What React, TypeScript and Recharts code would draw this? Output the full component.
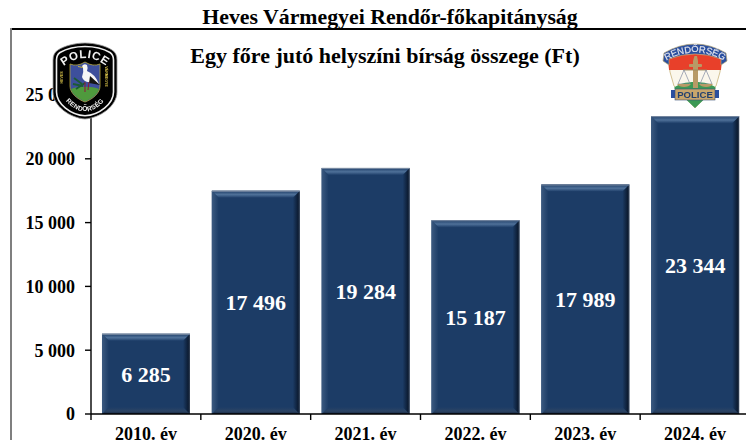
import * as React from 'react'
import { Bar, BarChart, LabelList, XAxis, YAxis } from 'recharts'

const categories = ['2010. év', '2020. év', '2021. év', '2022. év', '2023. év', '2024. év']
const fines = [6285, 17496, 19284, 15187, 17989, 23344]
const yTicks = [0, 5000, 10000, 15000, 20000, 25000]

const data = categories.map((year, i) => ({ year, fine: fines[i] }))

const FONT = '"Liberation Serif", "Times New Roman", serif'
const SANS = '"Liberation Sans", sans-serif'

function formatFt(value: number) {
  return String(value).replace(/\B(?=(\d{3})+$)/g, ' ')
}

function BevelBar({ x, y, width, height }: any) {
  const b = 7
  const r = x + width
  const bottom = y + height
  return (
    <g>
      <defs>
        <linearGradient id="bevel-top" x1="0" y1="0" x2="0" y2="1">
          <stop offset="0" stopColor="#1d3c66" />
          <stop offset="0.55" stopColor="#4f7199" />
          <stop offset="1" stopColor="#1f3f6a" />
        </linearGradient>
        <linearGradient id="bevel-right" x1="0" y1="0" x2="1" y2="0">
          <stop offset="0" stopColor="#1c3c66" />
          <stop offset="0.75" stopColor="#0c1c33" />
          <stop offset="1" stopColor="#3a4658" />
        </linearGradient>
        <linearGradient id="bevel-left" x1="0" y1="0" x2="1" y2="0">
          <stop offset="0" stopColor="#3c5a80" />
          <stop offset="1" stopColor="#1c3c66" />
        </linearGradient>
        <linearGradient id="bevel-bottom" x1="0" y1="0" x2="0" y2="1">
          <stop offset="0" stopColor="#1c3c66" />
          <stop offset="0.6" stopColor="#2c4464" />
          <stop offset="1" stopColor="#16263e" />
        </linearGradient>
      </defs>
      <rect x={x} y={y} width={width} height={height} fill="#1c3c66" />
      <polygon points={`${x},${bottom} ${x + b},${bottom - b} ${r - b},${bottom - b} ${r},${bottom}`} fill="url(#bevel-bottom)" />
      <polygon points={`${x},${y} ${x + b},${y + b} ${x + b},${bottom - b} ${x},${bottom}`} fill="url(#bevel-left)" />
      <polygon points={`${r},${y} ${r},${bottom} ${r - b},${bottom - b} ${r - b},${y + b}`} fill="url(#bevel-right)" />
      <polygon points={`${x},${y} ${r},${y} ${r - b},${y + b} ${x + b},${y + b}`} fill="url(#bevel-top)" />
      <line x1={x} x2={r} y1={y + 0.5} y2={y + 0.5} stroke="#7f8fa6" strokeWidth={1} />
    </g>
  )
}

function YearTick({ x, y, payload, index, width, visibleTicksCount }: any) {
  const step = width / visibleTicksCount
  return (
    <g>
      <line x1={x - step / 2} x2={x - step / 2} y1={y - 8} y2={y - 2} stroke="#000" strokeWidth={1.4} />
      {index === visibleTicksCount - 1 && (
        <line x1={x + step / 2} x2={x + step / 2} y1={y - 8} y2={y - 2} stroke="#000" strokeWidth={1.4} />
      )}
      <text x={x} y={y + 18} textAnchor="middle" fontFamily={FONT} fontWeight="bold" fontSize={18} fill="#000">
        {payload.value}
      </text>
    </g>
  )
}

function PoliceBadge() {
  return (
    <svg width={66} height={78} viewBox="0 0 66 78" style={{ position: 'absolute', left: 52, top: 42 }}>
      <defs>
        <path id="badge-top" d="M8 27 Q33 5 58 27" />
        <path id="badge-bottom" d="M5 47 Q33 92 61 47" />
        <path id="badge-left" d="M11 47 L11 24" />
        <path id="badge-right" d="M53 22 L53 47" />
        <filter id="soft"><feGaussianBlur stdDeviation="0.35" /></filter>
      </defs>
      <g filter="url(#soft)">
        <path d="M33 1 C43 1 54 4 60 8 Q65 11 65 18 L65 50 C65 64 48 76 33 77 C18 76 1 64 1 50 L1 18 Q1 11 6 8 C12 4 23 1 33 1 Z" fill="#000" stroke="#999" strokeWidth={0.8} />
        <path d="M33 4.5 C43 4.5 52 7 58 10.5 Q61.5 13 61.5 18 L61.5 50 C61.5 62 47 73 33 73.8 C19 73 4.5 62 4.5 50 L4.5 18 Q4.5 13 8 10.5 C14 7 23 4.5 33 4.5 Z" fill="none" stroke="#efefef" strokeWidth={1.6} />
        <path d="M18 22 Q25 25 33 20 Q41 25 48 22 L48 44 C48 51 41 57 33 60 C25 57 18 51 18 44 Z" fill="#3d4f9c" stroke="#b8a83a" strokeWidth={0.8} />
        <path d="M19 47 C25 44 41 44 47 47 C45 53 39 57 33 59.5 C27 57 21 53 19 47 Z" fill="#4f9a3c" />
        <path d="M21 42 L31 44 M22 36 L30 42 M24 47 L33 41" stroke="#1d5a34" strokeWidth={1.8} />
        <path d="M30 24 Q32 21 35 23 Q36 25 35 29 Q43 32 47 42 L39 40 Q32 41 30 35 Q32 30 31 26 Z" fill="#f6f6f6" />
        <path d="M38 34 L48 43 L37 41 Z" fill="#151515" />
        <path d="M26 24.5 L31 25.5" stroke="#c9b23a" strokeWidth={1} />
        <path d="M33 40 L33 50 M37 40 L36 48" stroke="#8a1f3c" strokeWidth={1.1} />
        <text fontFamily={SANS} fontWeight="bold" fontSize={11.5} fill="#f2f2f2" letterSpacing={0.6}>
          <textPath href="#badge-top" startOffset="50%" textAnchor="middle">POLICE</textPath>
        </text>
        <text fontFamily={SANS} fontWeight="bold" fontSize={6.6} fill="#f2f2f2" letterSpacing={0.3}>
          <textPath href="#badge-bottom" startOffset="50%" textAnchor="middle">RENDŐRSÉG</textPath>
        </text>
        <text fontFamily={SANS} fontWeight="bold" fontSize={3.6} fill="#d8c24a">
          <textPath href="#badge-left" startOffset="50%" textAnchor="middle">HEVES</textPath>
        </text>
        <text fontFamily={SANS} fontWeight="bold" fontSize={3.6} fill="#d8c24a">
          <textPath href="#badge-right" startOffset="50%" textAnchor="middle">VÁRMEGYE</textPath>
        </text>
      </g>
    </svg>
  )
}

function RendorsegBadge() {
  return (
    <svg width={68} height={68} viewBox="0 0 68 68" style={{ position: 'absolute', left: 661, top: 42 }}>
      <defs>
        <path id="ribbon-top" d="M6 18 Q34 3 62 18" />
        <filter id="soft-right"><feGaussianBlur stdDeviation="0.4" /></filter>
      </defs>
      <g filter="url(#soft-right)">
        <path d="M7 14 L61 14 L59 30 L55 44 L34 66 L13 44 L9 30 Z" fill="#fbf7ec" stroke="#c9b27a" strokeWidth={0.8} />
        <path d="M7 16 Q34 8 61 16 L60 28 L8 28 Z" fill="#e8402c" />
        <path d="M13 46 C20 38 48 38 55 46 L34 66 Z" fill="#3d9a55" />
        <path d="M2 19 L3 11 Q34 -7 65 11 L66 19 L60 23 L60 17 Q34 7 8 17 L8 23 Z" fill="#2b4f9f" stroke="#b9a877" strokeWidth={0.7} />
        <text fontFamily={SANS} fontSize={9.4} fill="#e4e6ee" stroke="#e4e6ee" strokeWidth={0.15}>
          <textPath href="#ribbon-top" startOffset="50%" textAnchor="middle">RENDŐRSÉG</textPath>
        </text>
        <path d="M33.5 14 L36 14 L37 19 L37 46 L32 46 L32 19 Z" fill="#b89a66" />
        <rect x={28} y={22} width={13} height={3} rx={1} fill="#b89a66" />
        <path d="M22 28 L46 28" stroke="#9a8a60" strokeWidth={0.9} />
        <path d="M23 28 L17 42 L29 42 Z M45 28 L39 42 L51 42 Z" fill="none" stroke="#7f8aa0" strokeWidth={0.7} />
        <path d="M16 42 L30 42 Q28 45 23 45 Q18 45 16 42 Z M38 42 L52 42 Q50 45 45 45 Q40 45 38 42 Z" fill="#b89a66" />
        <rect x={10} y={48} width={6} height={8} fill="#2b4f9f" />
        <rect x={52} y={48} width={6} height={8} fill="#2b4f9f" />
        <rect x={14} y={47} width={40} height={11} fill="#c8a56c" stroke="#3a4f7a" strokeWidth={0.6} />
        <text x={34} y={56.2} textAnchor="middle" fontFamily={SANS} fontWeight="bold" fontSize={9.6} fill="#24406e">
          POLICE
        </text>
      </g>
    </svg>
  )
}

export default function App() {
  return (
    <div style={{ position: 'relative', width: 754, height: 448, margin: -8, background: '#fff', overflow: 'hidden', fontFamily: FONT }}>
      <div style={{ position: 'absolute', left: 0, width: 780, top: 5, textAlign: 'center', fontWeight: 'bold', fontSize: 21.8, lineHeight: '24px', color: '#000' }}>
        Heves Vármegyei Rendőr-főkapitányság
      </div>
      <div style={{ position: 'absolute', left: 10, right: 0, top: 28, height: 1.5, background: '#000' }} />
      <div style={{ position: 'absolute', left: 10, top: 28, bottom: 0, width: 1.5, background: '#7f7f7f' }} />
      <div style={{ position: 'absolute', left: 0, width: 770, top: 44, textAlign: 'center', fontWeight: 'bold', fontSize: 22, lineHeight: '24px', color: '#000' }}>
        Egy főre jutó helyszíni bírság összege (Ft)
      </div>
      <div style={{ position: 'absolute', left: 0, top: 0 }}>
        <BarChart
          width={754}
          height={448}
          data={data}
          margin={{ top: 95, right: 4, bottom: 0, left: 0 }}
          barCategoryGap="10%"
        >
          <XAxis
            dataKey="year"
            height={34}
            interval={0}
            axisLine={{ stroke: '#000', strokeWidth: 1.4 }}
            tickLine={false}
            tick={<YearTick />}
          />
          <YAxis
            width={91}
            domain={[0, 25000]}
            ticks={yTicks}
            tickFormatter={formatFt}
            axisLine={{ stroke: '#000', strokeWidth: 1.4 }}
            tickLine={{ stroke: '#000', strokeWidth: 1.4 }}
            tickSize={6}
            tickMargin={10}
            tick={{ fontFamily: FONT, fontWeight: 'bold', fontSize: 18, fill: '#000' }}
          />
          <Bar dataKey="fine" shape={<BevelBar />} isAnimationActive={false}>
            <LabelList
              dataKey="fine"
              position="center"
              formatter={formatFt}
              style={{ fontFamily: FONT, fontWeight: 'bold', fontSize: 22, fill: '#fff' }}
            />
          </Bar>
        </BarChart>
      </div>
      <PoliceBadge />
      <RendorsegBadge />
    </div>
  )
}
